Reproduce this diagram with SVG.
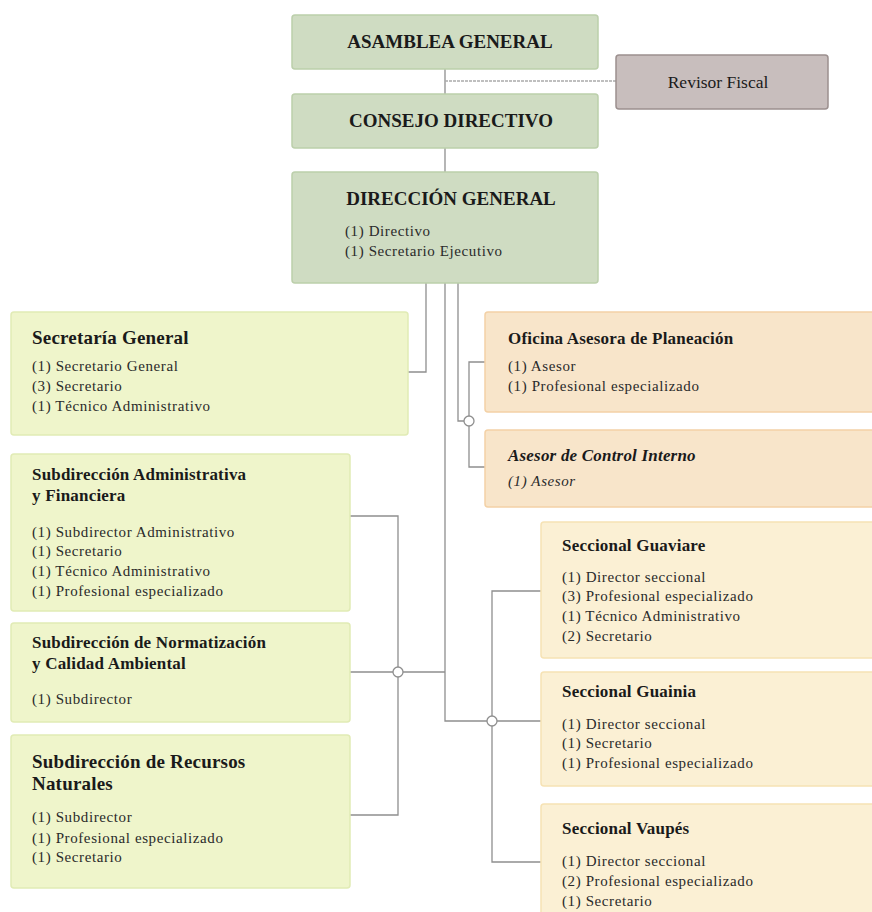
<svg xmlns="http://www.w3.org/2000/svg" width="872" height="912" viewBox="0 0 872 912">
<style>
text{font-family:"Liberation Serif",Tinos,"Times New Roman","DejaVu Serif",serif;fill:#1a1a1a}
.t{font-weight:bold;font-size:17px;letter-spacing:0.2px}
.tb{font-weight:bold;font-size:19px;letter-spacing:0.2px}
.tc{font-weight:bold;font-size:19px;text-anchor:middle}
.i{font-size:15px;letter-spacing:0.6px;fill:#2a2a2a}
.it{font-style:italic}
.g{fill:#cfdcc2;stroke:#bccfab;stroke-width:1.5}
.r{fill:#c8bebd;stroke:#9c908f;stroke-width:1.5}
.y{fill:#eff5cb;stroke:#e1ebb5;stroke-width:1.5}
.o{fill:#f8e5ca;stroke:#f3d1a6;stroke-width:1.5}
.s{fill:#fbf0d4;stroke:#f6e2b4;stroke-width:1.5}
.c{fill:none;stroke:#8f8f8f;stroke-width:1.3}
.d{fill:none;stroke:#aaaaaa;stroke-width:1.3;stroke-dasharray:3,1}
.j{fill:#ffffff;stroke:#8f8f8f;stroke-width:1.3}
</style>
<g id="connectors">
<path class="c" d="M445,69V94M445,148V172"/>
<path class="d" d="M445,81H616"/>
<path class="c" d="M426,283V372H408"/>
<path class="c" d="M458,283V421H464"/>
<path class="c" d="M469,416V362H485M469,426V467H485"/>
<path class="c" d="M445,283V721H487"/>
<path class="c" d="M497,721H541M492,716V591H541M492,726V862H541"/>
<path class="c" d="M350,516H398V667M350,672H393M403,672H445M398,677V815H350"/>
<circle class="j" cx="469" cy="421" r="5"/>
<circle class="j" cx="492" cy="721" r="5"/>
<circle class="j" cx="398" cy="672" r="5"/>
</g>
<g id="asamblea">
<rect class="g" x="292" y="15" width="306" height="54" rx="3"/>
<text class="tc" x="450" y="48">ASAMBLEA GENERAL</text>
</g>
<g id="revisor">
<rect class="r" x="616" y="55" width="212" height="54" rx="3"/>
<text x="718" y="88" font-size="17.5" text-anchor="middle">Revisor Fiscal</text>
</g>
<g id="consejo">
<rect class="g" x="292" y="94" width="306" height="54" rx="3"/>
<text class="tc" x="451" y="127">CONSEJO DIRECTIVO</text>
</g>
<g id="direccion">
<rect class="g" x="292" y="172" width="306" height="111" rx="3"/>
<text class="tc" x="451" y="205">DIRECCIÓN GENERAL</text>
<text class="i" x="345" y="236">(1) Directivo</text>
<text class="i" x="345" y="256">(1) Secretario Ejecutivo</text>
</g>
<g id="secretaria">
<rect class="y" x="11" y="312" width="397" height="123" rx="3"/>
<text class="tb" x="32" y="344">Secretaría General</text>
<text class="i" x="32" y="371">(1) Secretario General</text>
<text class="i" x="32" y="391">(3) Secretario</text>
<text class="i" x="32" y="411">(1) Técnico Administrativo</text>
</g>
<g id="planeacion">
<rect class="o" x="485" y="312" width="392" height="100" rx="3"/>
<text class="t" x="508" y="344">Oficina Asesora de Planeación</text>
<text class="i" x="508" y="371">(1) Asesor</text>
<text class="i" x="508" y="391">(1) Profesional especializado</text>
</g>
<g id="control">
<rect class="o" x="485" y="430" width="392" height="77" rx="3"/>
<text class="t it" x="508" y="461">Asesor de Control Interno</text>
<text class="i it" x="508" y="486">(1) Asesor</text>
</g>
<g id="sub-admin">
<rect class="y" x="11" y="454" width="339" height="157" rx="3"/>
<text class="t" x="32" y="480">Subdirección Administrativa</text>
<text class="t" x="32" y="501">y Financiera</text>
<text class="i" x="32" y="537">(1) Subdirector Administrativo</text>
<text class="i" x="32" y="556">(1) Secretario</text>
<text class="i" x="32" y="576">(1) Técnico Administrativo</text>
<text class="i" x="32" y="596">(1) Profesional especializado</text>
</g>
<g id="sub-normatizacion">
<rect class="y" x="11" y="623" width="339" height="99" rx="3"/>
<text class="t" x="32" y="648">Subdirección de Normatización</text>
<text class="t" x="32" y="669">y Calidad Ambiental</text>
<text class="i" x="32" y="704">(1) Subdirector</text>
</g>
<g id="sub-recursos">
<rect class="y" x="11" y="735" width="339" height="153" rx="3"/>
<text class="tb" x="32" y="768">Subdirección de Recursos</text>
<text class="tb" x="32" y="790">Naturales</text>
<text class="i" x="32" y="822">(1) Subdirector</text>
<text class="i" x="32" y="843">(1) Profesional especializado</text>
<text class="i" x="32" y="862">(1) Secretario</text>
</g>
<g id="guaviare">
<rect class="s" x="541" y="522" width="336" height="136" rx="3"/>
<text class="t" x="562" y="551">Seccional Guaviare</text>
<text class="i" x="562" y="582">(1) Director seccional</text>
<text class="i" x="562" y="601">(3) Profesional especializado</text>
<text class="i" x="562" y="621">(1) Técnico Administrativo</text>
<text class="i" x="562" y="641">(2) Secretario</text>
</g>
<g id="guainia">
<rect class="s" x="541" y="672" width="336" height="114" rx="3"/>
<text class="t" x="562" y="697">Seccional Guainia</text>
<text class="i" x="562" y="729">(1) Director seccional</text>
<text class="i" x="562" y="748">(1) Secretario</text>
<text class="i" x="562" y="768">(1) Profesional especializado</text>
</g>
<g id="vaupes">
<rect class="s" x="541" y="804" width="336" height="120" rx="3"/>
<text class="t" x="562" y="834">Seccional Vaupés</text>
<text class="i" x="562" y="866">(1) Director seccional</text>
<text class="i" x="562" y="886">(2) Profesional especializado</text>
<text class="i" x="562" y="906">(1) Secretario</text>
</g>
</svg>
